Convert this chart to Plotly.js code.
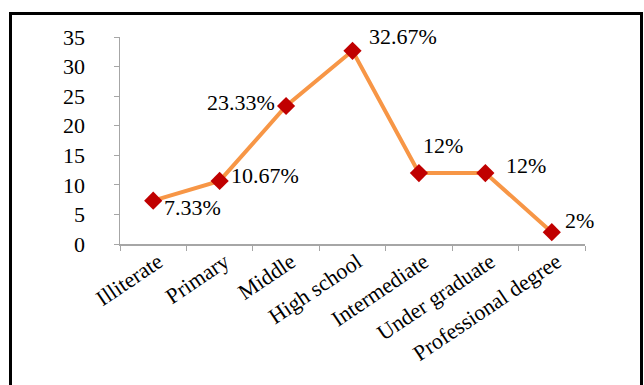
<!DOCTYPE html>
<html>
<head>
<meta charset="utf-8">
<script src="https://cdn.plot.ly/plotly-3.0.1.min.js"></script>
<style>
html,body{margin:0;padding:0;background:#fff;}
#wrap{position:relative;width:644px;height:385px;overflow:hidden;}
#chart{position:absolute;left:0;top:0;width:644px;height:385px;}
#frame{position:absolute;left:9px;top:12px;width:628px;height:380px;border:3px solid #000;border-bottom:none;pointer-events:none;}
</style>
</head>
<body>
<div id="wrap">
<div id="chart"></div>
<div id="frame"></div>
</div>
<script>
const categories = ["Illiterate", "Primary", "Middle", "High school", "Intermediate", "Under graduate", "Professional degree"];
const values = [7.33, 10.67, 23.33, 32.67, 12, 12, 2];
const valueLabels = ["7.33%", "10.67%", "23.33%", "32.67%", "12%", "12%", "2%"];
const yTicks = [0, 5, 10, 15, 20, 25, 30, 35];

// label placement (styling): anchor side and pixel offsets from each marker
const labelAnchor = ["left", "left", "right", "left", "left", "left", "left"];
const labelShiftX = [9, 9, -9, 14, 2, 19, 11];
const labelShiftY = [-7, 5, 4, 14, 28, 8, 12];

const FONT = "Liberation Serif, Times New Roman, serif";

const trace = {
  type: "scatter",
  mode: "lines+markers",
  x: categories,
  y: values,
  line: {color: "#f79646", width: 4},
  marker: {symbol: "diamond", size: 14, color: "#c00000"},
  cliponaxis: false,
  hoverinfo: "none"
};

const annotations = categories.map((c, i) => ({
  x: c,
  y: values[i],
  xref: "x",
  yref: "y",
  text: valueLabels[i],
  showarrow: false,
  xanchor: labelAnchor[i],
  yanchor: "middle",
  xshift: labelShiftX[i],
  yshift: labelShiftY[i],
  font: {family: FONT, size: 22, color: "#000"}
}));

const layout = {
  width: 644,
  height: 385,
  margin: {l: 120, r: 59, t: 37, b: 141},
  paper_bgcolor: "#fff",
  plot_bgcolor: "#fff",
  showlegend: false,
  font: {family: FONT, size: 22, color: "#000"},
  annotations: annotations,
  xaxis: {
    type: "category",
    range: [-0.5, 6.5],
    showgrid: false,
    zeroline: false,
    showline: true,
    linecolor: "#a6a6a6",
    linewidth: 1.5,
    ticks: "outside",
    tickson: "boundaries",
    ticklen: 5,
    tickcolor: "#a6a6a6",
    tickangle: -34,
    ticklabelstandoff: -5,
    ticklabelshift: 5,
    tickfont: {family: FONT, size: 22, color: "#000"}
  },
  yaxis: {
    range: [0, 35],
    tickvals: yTicks,
    showgrid: false,
    zeroline: false,
    showline: true,
    linecolor: "#a6a6a6",
    linewidth: 1.5,
    ticks: "outside",
    ticklen: 5,
    tickcolor: "#a6a6a6",
    ticklabelstandoff: 24,
    tickfont: {family: FONT, size: 22, color: "#000"}
  }
};

Plotly.newPlot("chart", [trace], layout, {staticPlot: true, displayModeBar: false});
</script>
</body>
</html>
